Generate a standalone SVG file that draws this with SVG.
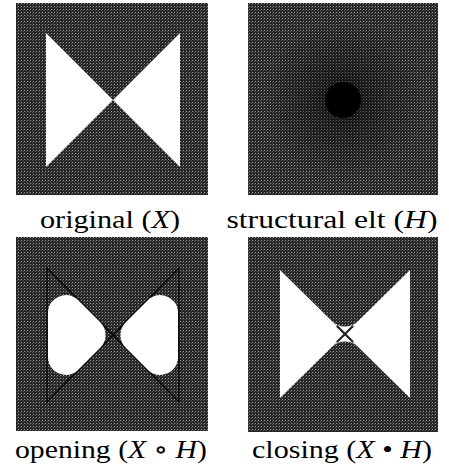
<svg xmlns="http://www.w3.org/2000/svg" width="449" height="470" viewBox="0 0 449 470">
  <style>
    .lbl { font-family: "Liberation Serif", "DejaVu Serif", serif; font-size: 26px; fill: #000; }
    .it { font-style: italic; }
    .panel { fill: url(#dither); }
    .white { fill: #ffffff; }
    .trace { fill: none; stroke: #000; stroke-width: 1.2; }
  </style>
  <defs>
    <pattern id="dither" patternUnits="userSpaceOnUse" width="3" height="3">
      <rect width="3" height="3" fill="#262626"/>
      <rect x="0" y="0" width="1" height="1" fill="#9a9a9a"/>
      <rect x="2" y="1" width="1" height="1" fill="#555555"/>
    </pattern>
    <radialGradient id="halo" cx="343" cy="100" r="80" gradientUnits="userSpaceOnUse">
      <stop offset="0" stop-color="#000" stop-opacity="0.6"/>
      <stop offset="0.4" stop-color="#000" stop-opacity="0.3"/>
      <stop offset="1" stop-color="#000" stop-opacity="0"/>
    </radialGradient>
  </defs>
  <rect width="449" height="470" fill="#ffffff"/>

  <g id="original">
    <rect class="panel" x="16" y="3" width="192" height="192"/>
    <polygon class="white" points="46,33 113,100 46,167"/>
    <polygon class="white" points="180,33 113,100 180,167"/>
    <text class="lbl" x="110" y="228" text-anchor="middle" textLength="140" lengthAdjust="spacingAndGlyphs">original (<tspan class="it">X</tspan>)</text>
  </g>

  <g id="structural-elt">
    <rect class="panel" x="248" y="3" width="190" height="192"/>
    <rect x="248" y="3" width="190" height="192" fill="url(#halo)"/>
    <circle cx="343" cy="100" r="18" fill="#000"/>
    <text class="lbl" x="332" y="228" text-anchor="middle" textLength="211" lengthAdjust="spacingAndGlyphs">structural elt (<tspan class="it">H</tspan>)</text>
  </g>

  <g id="opening">
    <rect class="panel" x="16" y="237" width="192" height="194"/>
    <polygon class="trace" points="47,268 113,335 47,402 47,268"/>
    <polygon class="trace" points="179,268 113,335 179,402 179,268"/>
    <path class="white" d="M 48 311.5 A 18 18 0 0 1 76.75 298.75 L 100.25 322.25 A 18 18 0 0 1 100.25 347.75 L 76.75 371.25 A 18 18 0 0 1 48 358.5 Z"/>
    <path class="white" d="M 178 311.5 A 18 18 0 0 0 149.25 298.75 L 125.75 322.25 A 18 18 0 0 0 125.75 347.75 L 149.25 371.25 A 18 18 0 0 0 178 358.5 Z"/>
    <text class="lbl" x="111" y="458" text-anchor="middle" textLength="192" lengthAdjust="spacingAndGlyphs">opening (<tspan class="it">X</tspan> ∘ <tspan class="it">H</tspan>)</text>
  </g>

  <g id="closing">
    <rect class="panel" x="248" y="237" width="190" height="195"/>
    <polygon class="white" points="280,270 345,334 280,398"/>
    <polygon class="white" points="410,270 345,334 410,398"/>
    <path class="white" d="M 332.3 321.3 L 345 334 L 357.7 321.3 A 18 18 0 0 1 332.3 321.3 Z"/>
    <path class="white" d="M 332.3 346.7 L 345 334 L 357.7 346.7 A 18 18 0 0 0 332.3 346.7 Z"/>
    <g stroke="#222" stroke-width="2.2" stroke-linecap="round">
      <line x1="337.5" y1="326.5" x2="352.5" y2="341.5"/>
      <line x1="352.5" y1="326.5" x2="337.5" y2="341.5"/>
    </g>
    <text class="lbl" x="342" y="458" text-anchor="middle" textLength="180" lengthAdjust="spacingAndGlyphs">closing (<tspan class="it">X</tspan> • <tspan class="it">H</tspan>)</text>
  </g>

  <g id="connectors"></g>
</svg>
